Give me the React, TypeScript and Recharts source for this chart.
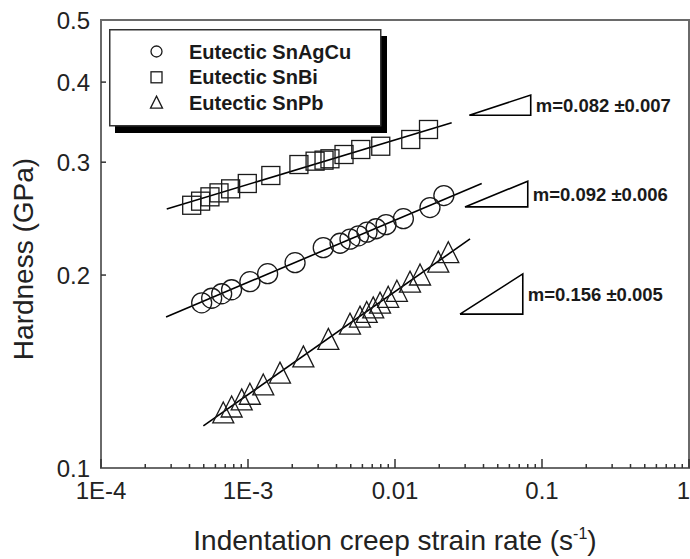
import React from 'react';
import { ScatterChart, Scatter, XAxis, YAxis, ReferenceArea, Legend, Label } from 'recharts';

const FONT = '"Liberation Sans", Arial, Helvetica, sans-serif';
const INK = '#1a1a1a';
const FRAME = '#6a6a6a';

// Eutectic SnAgCu (circles): strain rate (1/s) / hardness (GPa)
const agCuRate = [4.84e-4, 5.66e-4, 6.62e-4, 7.73e-4, 1.03e-3, 1.36e-3, 2.09e-3, 3.25e-3, 4.23e-3, 4.94e-3, 5.65e-3, 6.45e-3, 7.43e-3, 8.69e-3, 0.0114, 0.0173, 0.0215];
const agCuHard = [0.181, 0.184, 0.187, 0.1897, 0.1953, 0.201, 0.2091, 0.2207, 0.2242, 0.2275, 0.2303, 0.2333, 0.2362, 0.2397, 0.2449, 0.2549, 0.2661];

// Eutectic SnBi (squares)
const biRate = [4.14e-4, 4.76e-4, 5.51e-4, 6.35e-4, 7.62e-4, 9.89e-4, 1.43e-3, 2.22e-3, 2.86e-3, 3.29e-3, 3.61e-3, 4.5e-3, 5.85e-3, 8.0e-3, 0.0128, 0.0169];
const biHard = [0.257, 0.2608, 0.2649, 0.2687, 0.2726, 0.2779, 0.286, 0.2975, 0.3011, 0.3022, 0.3037, 0.3084, 0.314, 0.3177, 0.3255, 0.3374];

// Eutectic SnPb (triangles)
const pbRate = [6.79e-4, 7.74e-4, 9.06e-4, 1.03e-3, 1.27e-3, 1.65e-3, 2.38e-3, 3.52e-3, 4.94e-3, 5.78e-3, 6.42e-3, 7.11e-3, 7.91e-3, 8.99e-3, 0.0103, 0.01265, 0.0148, 0.0197, 0.02305];
const pbHard = [0.121, 0.1236, 0.1268, 0.1294, 0.1338, 0.1396, 0.148, 0.1576, 0.1665, 0.1707, 0.1736, 0.1765, 0.1795, 0.1833, 0.1873, 0.1936, 0.1986, 0.208, 0.2152];

// power-law fit lines (end points)
const agCuFitRate = [2.77e-4, 0.0389];
const agCuFitHard = [0.172, 0.2779];
const biFitRate = [2.8e-4, 0.0243];
const biFitHard = [0.2536, 0.3456];
const pbFitRate = [4.97e-4, 0.0324];
const pbFitHard = [0.1163, 0.2277];

// slope triangles: [left, right] rate and [bottom, top] hardness
const slopeRate = [[0.032, 0.0838], [0.0299, 0.08], [0.02767, 0.074]];
const slopeHard = [[0.3552, 0.3818], [0.2555, 0.2802], [0.1738, 0.2008]];
const slopeText = ['m=0.082 \u00b10.007', 'm=0.092 \u00b10.006', 'm=0.156 \u00b10.005'];

const seriesNames = ['Eutectic SnAgCu', 'Eutectic SnBi', 'Eutectic SnPb'];

const xDecades = [1e-4, 1e-3, 1e-2, 1e-1, 1];
const xDecadeLabels = ['1E-4', '1E-3', '0.01', '0.1', '1'];
const xMinorSteps = [2, 3, 4, 5, 6, 7, 8, 9];
const yTicks = [0.1, 0.2, 0.3, 0.4, 0.5];
const yTickLabels = ['0.1', '0.2', '0.3', '0.4', '0.5'];

const xTicks = [
  ...xDecades,
  ...xDecades.slice(0, -1).flatMap(d => xMinorSteps.map(k => k * d)),
].sort((a, b) => a - b);

const zip = (xs: number[], ys: number[]) => xs.map((x, i) => ({ x, y: ys[i] }));

const agCuData = zip(agCuRate, agCuHard);
const biData = zip(biRate, biHard);
const pbData = zip(pbRate, pbHard);

const slopeTriangles = slopeRate.map(([r0, r1], i) => {
  const [h0, h1] = slopeHard[i];
  return [
    { x: r0, y: h0 },
    { x: r1, y: h0 },
    { x: r1, y: h1 },
    { x: r0, y: h0 },
  ];
});
const slopeLabels = slopeRate.map(([, r1], i) => ({
  x: r1,
  y: Math.sqrt(slopeHard[i][0] * slopeHard[i][1]),
  text: slopeText[i],
}));

const OpenCircle = ({ cx, cy, r = 10 }: any) => (
  <circle cx={cx} cy={cy} r={r} fill="none" stroke={INK} strokeWidth={1.3} />
);
const OpenSquare = ({ cx, cy, s = 9 }: any) => (
  <rect x={cx - s} y={cy - s} width={2 * s} height={2 * s} fill="none" stroke={INK} strokeWidth={1.3} />
);
const OpenTriangle = ({ cx, cy, w = 10.5, up = 13, down = 8 }: any) => (
  <path
    d={`M${cx},${cy - up}L${cx + w},${cy + down}L${cx - w},${cy + down}Z`}
    fill="none"
    stroke={INK}
    strokeWidth={1.3}
    strokeLinejoin="miter"
  />
);
const NoShape = () => <g />;

const SlopeLabel = ({ cx, cy, payload }: any) => (
  <text x={cx + 5} y={cy} dominantBaseline="central" fontFamily={FONT} fontWeight="bold" fontSize={18.5} fill={INK}>
    {payload.text}
  </text>
);

const XTick = ({ x, y, payload }: any) => {
  const i = xDecades.findIndex(d => Math.abs(payload.value - d) / d < 1e-6);
  const major = i >= 0;
  // the last label sits on the chart's right edge: keep it inside
  const last = i === xDecades.length - 1;
  return (
    <g>
      <line x1={x} x2={x} y1={y} y2={y - (major ? 9 : 4)} stroke="#333" strokeWidth={1.5} />
      {major && (
        <text
          x={last ? x + 1 : x}
          y={y + 22}
          textAnchor={last ? 'end' : 'middle'}
          dominantBaseline="central"
          fontFamily={FONT}
          fontSize={24}
          fill="#222"
        >
          {xDecadeLabels[i]}
        </text>
      )}
    </g>
  );
};

const YTick = ({ x, y, payload }: any) => {
  const i = yTicks.findIndex(t => Math.abs(payload.value - t) < 1e-9);
  const inner = i > 0 && i < yTicks.length - 1;
  return (
    <g>
      {inner && <line x1={x} x2={x + 5} y1={y} y2={y} stroke="#333" strokeWidth={1.5} />}
      <text x={x - 11} y={y} textAnchor="end" dominantBaseline="central" fontFamily={FONT} fontSize={24} fill="#222">
        {yTickLabels[i]}
      </text>
    </g>
  );
};

const XTitle = () => (
  <text x={395} y={550} textAnchor="middle" fontFamily={FONT} fontSize={28} fill="#222">
    Indentation creep strain rate (s
    <tspan dy={-11} fontSize={16}>-1</tspan>
    <tspan dy={11}>)</tspan>
  </text>
);

const YTitle = () => (
  <text x={33} y={259} transform="rotate(-90 33 259)" textAnchor="middle" fontFamily={FONT} fontSize={28} fill="#222">
    Hardness (GPa)
  </text>
);

const legendSymbols = [
  (cx: number, cy: number) => <OpenCircle cx={cx} cy={cy} r={5.5} />,
  (cx: number, cy: number) => <OpenSquare cx={cx} cy={cy} s={5.5} />,
  (cx: number, cy: number) => <OpenTriangle cx={cx} cy={cy} w={6} up={7} down={5} />,
];

const LegendBox = () => (
  <svg width={282} height={106} style={{ display: 'block' }}>
    <rect x={6} y={7} width={272} height={97} fill="#000" />
    <rect x={0.75} y={0.75} width={271} height={96} fill="#fff" stroke="#333" strokeWidth={1.5} />
    {seriesNames.map((name, i) => {
      const cy = 22.5 + i * 25.8;
      return (
        <g key={name}>
          {legendSymbols[i](47.5, cy)}
          <text x={80} y={cy} dominantBaseline="central" fontFamily={FONT} fontWeight="bold" fontSize={20} fill={INK}>
            {name}
          </text>
        </g>
      );
    })}
  </svg>
);

export default function App() {
  return (
    <div style={{ position: 'absolute', left: 0, top: 0, width: 690, height: 559, background: '#fff' }}>
      <ScatterChart width={690} height={559} margin={{ top: 20, right: 1, bottom: 31, left: 0 }}>
        <XAxis
          dataKey="x"
          type="number"
          scale="log"
          domain={[1e-4, 1]}
          allowDataOverflow
          ticks={xTicks}
          interval={0}
          tickSize={0}
          tickMargin={0}
          tickLine={false}
          tick={XTick}
          axisLine={{ stroke: FRAME, strokeWidth: 2 }}
          height={60}
        >
          <Label content={XTitle} />
        </XAxis>
        <YAxis
          dataKey="y"
          type="number"
          scale="log"
          domain={[0.1, 0.5]}
          allowDataOverflow
          ticks={yTicks}
          interval={0}
          tickSize={0}
          tickMargin={0}
          tickLine={false}
          tick={YTick}
          axisLine={{ stroke: FRAME, strokeWidth: 2 }}
          width={101}
        >
          <Label content={YTitle} />
        </YAxis>
        <ReferenceArea x1={1e-4} x2={1} y1={0.1} y2={0.5} fill="none" stroke={FRAME} strokeWidth={2} ifOverflow="visible" />
        <Legend layout="vertical" align="center" verticalAlign="middle" wrapperStyle={{ left: 109, top: 29 }} content={LegendBox} />

        <Scatter name="fit-agcu" data={zip(agCuFitRate, agCuFitHard)} line={{ stroke: '#000', strokeWidth: 1.6 }} shape={NoShape} legendType="none" isAnimationActive={false} />
        <Scatter name="fit-bi" data={zip(biFitRate, biFitHard)} line={{ stroke: '#000', strokeWidth: 1.6 }} shape={NoShape} legendType="none" isAnimationActive={false} />
        <Scatter name="fit-pb" data={zip(pbFitRate, pbFitHard)} line={{ stroke: '#000', strokeWidth: 1.6 }} shape={NoShape} legendType="none" isAnimationActive={false} />

        <Scatter name={seriesNames[0]} data={agCuData} shape={OpenCircle} isAnimationActive={false} />
        <Scatter name={seriesNames[1]} data={biData} shape={OpenSquare} isAnimationActive={false} />
        <Scatter name={seriesNames[2]} data={pbData} shape={OpenTriangle} isAnimationActive={false} />

        {slopeTriangles.map((tri, i) => (
          <Scatter key={`slope-${i}`} name={`slope-${i}`} data={tri} line={{ stroke: '#000', strokeWidth: 1.6 }} shape={NoShape} legendType="none" isAnimationActive={false} />
        ))}
        <Scatter name="slope-labels" data={slopeLabels} shape={SlopeLabel} legendType="none" isAnimationActive={false} />
      </ScatterChart>
    </div>
  );
}
